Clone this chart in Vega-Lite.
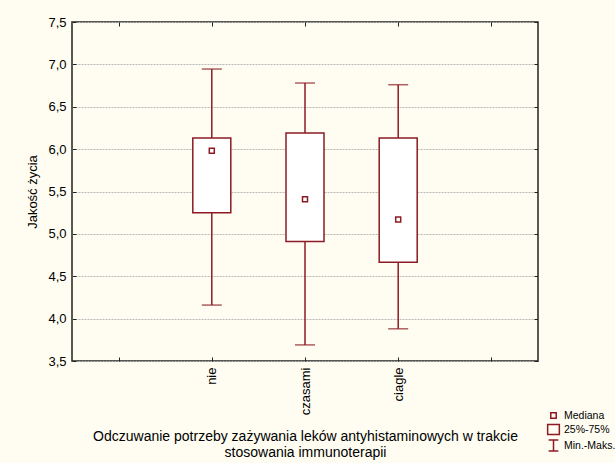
{
  "$schema": "https://vega.github.io/schema/vega-lite/v6.json",
  "width": 466,
  "height": 339,
  "autosize": {"type": "none"},
  "padding": {"left": 72, "top": 22, "right": 77, "bottom": 102},
  "background": "#FFFDF2",
  "config": {
    "view": {"fill": "white", "stroke": "#222222", "strokeWidth": 1.5},
    "font": "Liberation Sans",
    "axis": {"labelFont": "Liberation Sans", "titleFont": "Liberation Sans", "labelColor": "black", "titleColor": "black", "labelFontSize": 13, "titleFontSize": 13, "titleFontWeight": "normal", "tickColor": "#222222", "domainColor": "#222222"}
  },
  "data": {
    "values": [
      {"cat": "nie", "min": 4.16, "q1": 5.25, "med": 5.98, "q3": 6.13, "max": 6.945},
      {"cat": "czasami", "min": 3.69, "q1": 4.91, "med": 5.41, "q3": 6.19, "max": 6.78},
      {"cat": "ciagle", "min": 3.88, "q1": 4.665, "med": 5.17, "q3": 6.13, "max": 6.76}
    ]
  },
  "resolve": {"axis": {"x": "independent", "y": "independent"}},
  "layer": [
    {
      "mark": {"type": "rule", "color": "#8C1B24", "strokeWidth": 1.5},
      "encoding": {
        "x": {"field": "cat", "type": "nominal", "sort": null,
          "scale": {"type": "point", "domain": ["_1", "nie", "czasami", "ciagle", "_2"], "padding": 0.5},
          "axis": {"orient": "bottom", "labelAngle": 270, "labelAlign": "right", "labelBaseline": "middle", "labelPadding": 10, "tickSize": -4, "domain": false,
            "labelExpr": "indexof(datum.label, '_') == 0 ? '' : datum.label",
            "title": ["Odczuwanie potrzeby zażywania leków antyhistaminowych w trakcie", "stosowania immunoterapii"],
            "titleY": 68, "titleBaseline": "top", "titleLineHeight": 16, "titleFontSize": 14}},
        "y": {"field": "min", "type": "quantitative",
          "scale": {"domain": [3.5, 7.5], "nice": false, "zero": false},
          "axis": {"orient": "left", "values": [3.5, 4, 4.5, 5, 5.5, 6, 6.5, 7, 7.5], "tickSize": -4, "labelPadding": 10, "domain": false,
            "labelExpr": "replace(format(datum.value, '.1f'), '.', ',')",
            "grid": true, "gridColor": "#b8b8b8", "gridDash": [2, 1], "gridWidth": 1,
            "title": "Jakość życia", "titleX": -40, "titleBaseline": "middle"}},
        "y2": {"field": "max"}
      }
    },
    {
      "mark": {"type": "bar", "width": 38, "fill": "white", "stroke": "#8C1B24", "strokeWidth": 1.5},
      "encoding": {
        "x": {"field": "cat", "type": "nominal", "sort": null,
          "axis": {"orient": "top", "labels": false, "title": null, "tickSize": -4, "domain": false, "grid": false}},
        "y": {"field": "q1", "type": "quantitative",
          "axis": {"orient": "right", "labels": false, "title": null, "tickSize": -4, "domain": false, "grid": false, "values": [3.5, 4, 4.5, 5, 5.5, 6, 6.5, 7, 7.5]}},
        "y2": {"field": "q3"}
      }
    },
    {
      "mark": {"type": "tick", "size": 20, "thickness": 1.5, "color": "#8C1B24", "orient": "horizontal"},
      "encoding": {
        "x": {"field": "cat", "type": "nominal", "sort": null, "axis": null},
        "y": {"field": "max", "type": "quantitative", "axis": null}
      }
    },
    {
      "mark": {"type": "tick", "size": 20, "thickness": 1.5, "color": "#8C1B24", "orient": "horizontal"},
      "encoding": {
        "x": {"field": "cat", "type": "nominal", "sort": null, "axis": null},
        "y": {"field": "min", "type": "quantitative", "axis": null}
      }
    },
    {
      "mark": {"type": "point", "shape": "square", "size": 25, "filled": false, "color": "#8C1B24", "strokeWidth": 1.5, "opacity": 1},
      "encoding": {
        "x": {"field": "cat", "type": "nominal", "sort": null, "axis": null},
        "y": {"field": "med", "type": "quantitative", "axis": null}
      }
    },
    {
      "data": {"values": [{"leg": "Mediana"}, {"leg": "25%-75%"}, {"leg": "Min.-Maks."}]},
      "mark": {"type": "point", "opacity": 0, "filled": false},
      "encoding": {
        "shape": {"field": "leg", "type": "nominal", "sort": null,
          "scale": {"domain": ["Mediana", "25%-75%", "Min.-Maks."],
            "range": ["M-0.42,-0.42H0.42V0.42H-0.42Z", "M-0.9,-0.78H0.9V0.78H-0.9Z", "M-0.75,-0.85H0.75M0,-0.85V0.85M-0.75,0.85H0.75"]},
          "legend": {"orient": "none", "legendX": 474, "legendY": 386, "title": null,
            "symbolSize": 169, "symbolStrokeColor": "#8C1B24", "symbolFillColor": "transparent", "symbolStrokeWidth": 1.5, "symbolOpacity": 1,
            "labelFont": "Liberation Sans", "labelFontSize": 10.5, "labelColor": "black", "labelOffset": 3, "rowPadding": -2}}
      }
    }
  ]
}
